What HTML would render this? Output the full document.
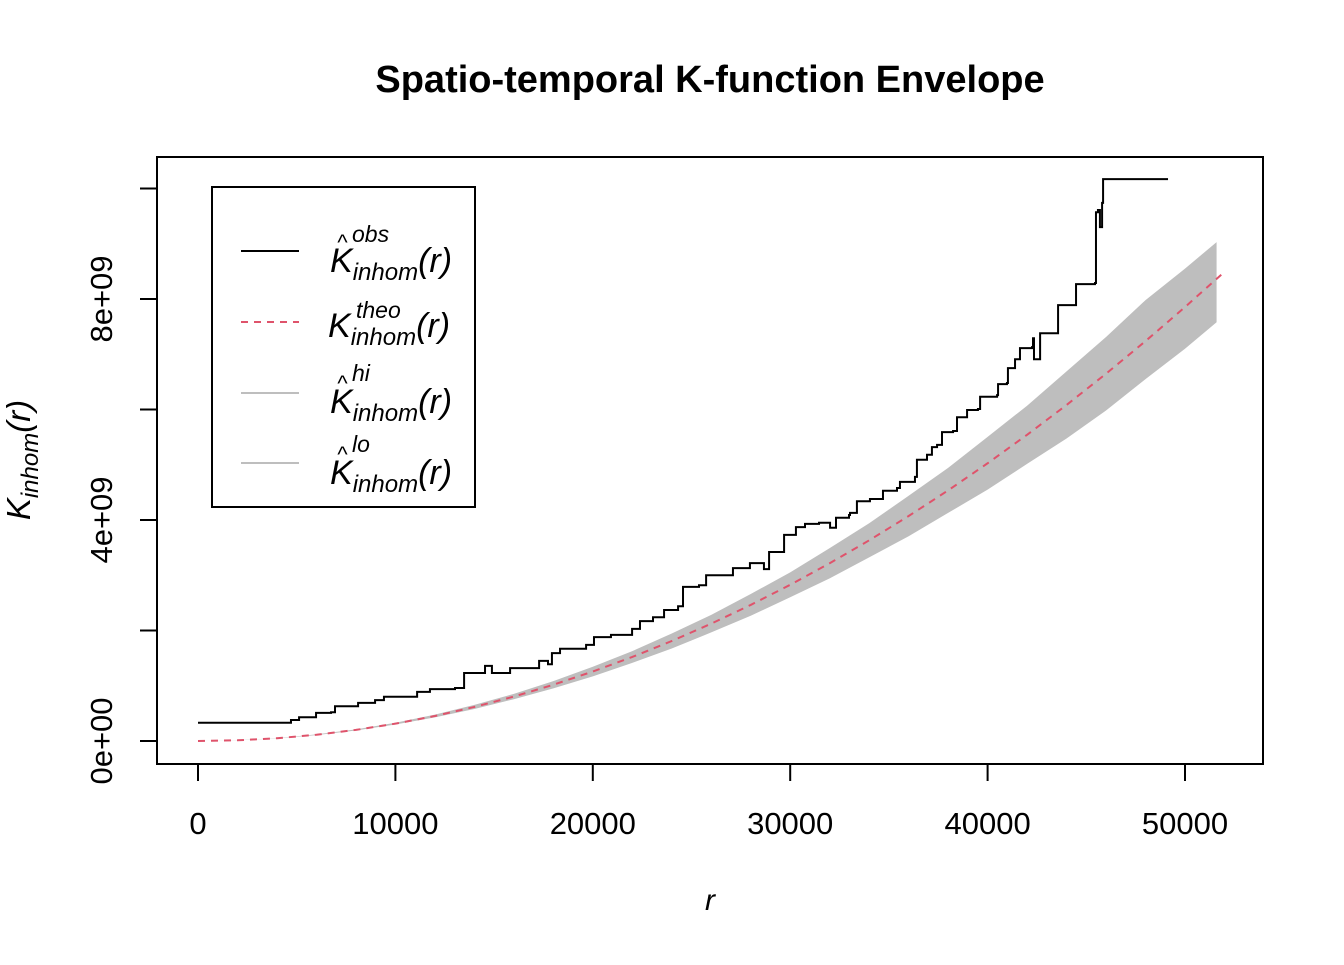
<!DOCTYPE html>
<html><head><meta charset="utf-8"><style>
body{margin:0;background:#fff}
svg text{font-family:"Liberation Sans",sans-serif}
</style></head><body>
<svg id="chart" width="1344" height="960" xmlns="http://www.w3.org/2000/svg">
<rect width="1344" height="960" fill="#fff"/>
<text x="710" y="92" text-anchor="middle" font-size="38" font-weight="bold">Spatio-temporal K-function Envelope</text>
<g id="plot"></g>
<rect x="157" y="157" width="1106" height="607" fill="none" stroke="#000" stroke-width="2"/>
<text x="710" y="910" text-anchor="middle" font-size="30" font-style="italic">r</text>
<text transform="translate(30,460) rotate(-90)" text-anchor="middle" font-size="33" font-style="italic">K<tspan font-size="24" dy="8">inhom</tspan><tspan dy="-8">(r)</tspan></text>
<g>
<rect x="212" y="187" width="263" height="320" fill="#fff" stroke="#000" stroke-width="2"/>
<line x1="241" y1="251" x2="299" y2="251" stroke="#000" stroke-width="2"/>
<line x1="241" y1="322" x2="299" y2="322" stroke="#DF536B" stroke-width="2" stroke-dasharray="7,6"/>
<line x1="241" y1="393" x2="299" y2="393" stroke="#bebebe" stroke-width="2"/>
<line x1="241" y1="463" x2="299" y2="463" stroke="#bebebe" stroke-width="2"/>
<g font-size="34" font-style="italic">
<text x="330" y="272">K<tspan font-size="24" dy="8">inhom</tspan><tspan dy="-8">(r)</tspan></text>
<text x="337" y="250" font-size="22">^</text><text x="352" y="242" font-size="23">obs</text>
<text x="328" y="337">K<tspan font-size="24" dy="8">inhom</tspan><tspan dy="-8">(r)</tspan></text>
<text x="356" y="318" font-size="23">theo</text>
<text x="330" y="413">K<tspan font-size="24" dy="8">inhom</tspan><tspan dy="-8">(r)</tspan></text>
<text x="337" y="391" font-size="22">^</text><text x="352" y="381" font-size="23">hi</text>
<text x="330" y="484">K<tspan font-size="24" dy="8">inhom</tspan><tspan dy="-8">(r)</tspan></text>
<text x="337" y="462" font-size="22">^</text><text x="352" y="452" font-size="23">lo</text>
</g>
</g>
</svg>
<script>
const obsR=[0,2.79,4.71,5.12,5.98,6.74,6.94,8.11,8.97,9.42,10.23,11.10,11.75,13.02,13.48,14.54,14.79,14.89,15.81,17.28,17.73,17.93,18.34,19.66,20.06,20.92,21.99,22.39,23.05,23.61,24.32,24.57,25.38,25.74,27.10,27.96,28.62,28.67,28.93,29.43,29.69,30.29,30.75,31.46,32.02,32.32,32.98,33.03,33.38,34.04,34.70,35.41,35.56,36.32,36.42,36.93,37.18,37.44,37.69,38.25,38.45,38.96,39.51,39.62,40.48,40.53,40.98,41.03,41.39,41.64,42.25,42.30,42.35,42.55,42.66,43.52,43.57,44.43,44.48,45.44,45.49,45.59,45.69,45.80,45.85,49.14];
const obsK=[0.33,0.33,0.38,0.43,0.51,0.52,0.63,0.69,0.74,0.80,0.80,0.89,0.94,0.96,1.23,1.36,1.36,1.23,1.32,1.45,1.39,1.59,1.67,1.74,1.88,1.92,2.03,2.17,2.24,2.37,2.44,2.79,2.82,3.00,3.13,3.22,3.22,3.11,3.42,3.42,3.73,3.87,3.93,3.95,3.86,4.04,4.09,4.13,4.34,4.38,4.53,4.58,4.69,4.78,5.09,5.18,5.32,5.36,5.59,5.61,5.86,5.99,6.01,6.23,6.26,6.46,6.48,6.75,6.91,7.11,7.13,7.29,6.91,6.91,7.38,7.38,7.89,7.89,8.27,8.29,9.57,9.61,9.30,9.74,10.17,10.17];
const envR=[0,2,4,6,8,10,12,14,16,18,20,22,24,26,28,30,32,34,36,38,40,42,44,46,48,50,51.6];
const hiK=[0,0.013,0.053,0.119,0.211,0.330,0.477,0.653,0.852,1.084,1.345,1.627,1.946,2.283,2.660,3.053,3.490,3.941,4.438,4.944,5.505,6.068,6.690,7.313,7.98,8.55,9.03];
const loK=[0,0.012,0.048,0.107,0.191,0.298,0.427,0.579,0.756,0.952,1.169,1.415,1.674,1.965,2.266,2.601,2.944,3.323,3.706,4.128,4.549,5.016,5.474,5.983,6.55,7.1,7.58];
const theoR=[0,2,4,6,8,10,12,14,16,18,20,22,24,26,28,30,32,34,36,38,40,42,44,46,48,50,51.9];
const theoK=[0,0.0126,0.050,0.113,0.201,0.314,0.452,0.616,0.804,1.018,1.257,1.521,1.810,2.124,2.463,2.827,3.217,3.632,4.072,4.536,5.027,5.542,6.082,6.648,7.238,7.854,8.46];
const xTicks=[0,10000,20000,30000,40000,50000];
const yTicks=[0,2,4,6,8,10];
const yLabels={0:"0e+00",4:"4e+09",8:"8e+09"};

const X=r=>198+r*19.74; // r in thousands
const Y=k=>741-k*55.25; // k in 1e9
const NS="http://www.w3.org/2000/svg";
const g=document.getElementById('plot');
function mk(t,a){const e=document.createElementNS(NS,t);for(const k in a)e.setAttribute(k,a[k]);g.appendChild(e);return e;}

let d="M"+envR.map((r,i)=>X(r)+","+Y(hiK[i])).join(" L");
for(let i=envR.length-1;i>=0;i--)d+=" L"+X(envR[i])+","+Y(loK[i]);
const band=mk('path',{d:d+"Z",fill:"#bebebe"});



const theo=mk('polyline',{points:theoR.map((r,i)=>X(r)+","+Y(theoK[i])).join(" "),fill:"none",stroke:"#DF536B","stroke-width":2,"stroke-dasharray":"7,6"});



let od="M"+X(obsR[0])+","+Y(obsK[0]);
for(let i=1;i<obsR.length;i++){od+=" H"+X(obsR[i])+" V"+Y(obsK[i]);}
const obs=mk('path',{d:od,fill:"none",stroke:"#000","stroke-width":2});



xTicks.forEach(v=>{
  const x=X(v/1000);
  const t=mk('line',{x1:x,x2:x,y1:764,y2:781,stroke:"#000","stroke-width":2});
  
  
  const l=mk('text',{x:x,y:834,"text-anchor":"middle","font-size":31});
  
  
  l.textContent=v;
});
yTicks.forEach(v=>{
  const y=Y(v);
  const t=mk('line',{x1:140,x2:157,y1:y,y2:y,stroke:"#000","stroke-width":2});
  
  
  if(yLabels[v]!==undefined){
    const l=mk('text',{transform:"translate(112,"+y+") rotate(-90)","text-anchor":"middle","font-size":31});
    
    
    l.textContent=yLabels[v];
  }
});
</script>
</body></html>
